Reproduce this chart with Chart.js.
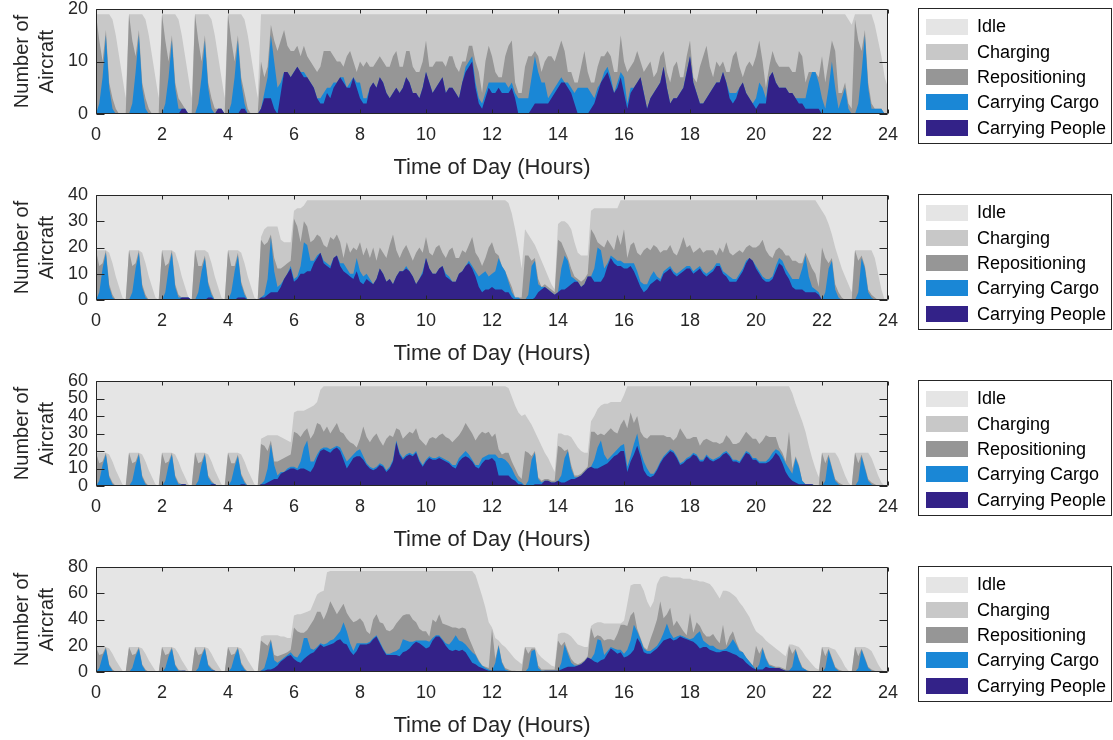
<!DOCTYPE html>
<html>
<head>
<meta charset="utf-8">
<script src="https://cdn.jsdelivr.net/npm/chart.js@4.4.1/dist/chart.umd.min.js"></script>
<style>
  html, body { margin: 0; padding: 0; background: #ffffff; }
  #wrap { position: relative; width: 1113px; height: 740px; overflow: hidden; background: #ffffff; }
  #wrap canvas { position: absolute; left: 0; }
</style>
</head>
<body>
<div id="wrap"></div>
<script>
// Fleet state over a day, sampled every 6 minutes (10 samples per hour, 0..24 h).
const STEPS_PER_HOUR = 10;
const hourTicks = [0, 2, 4, 6, 8, 10, 12, 14, 16, 18, 20, 22, 24];
const fleetSizes = [20, 40, 60, 80];
const yTicksByPanel = [[0, 10, 20], [0, 10, 20, 30, 40], [0, 10, 20, 30, 40, 50, 60], [0, 20, 40, 60, 80]];
const stateLabels = ['Carrying People', 'Carrying Cargo', 'Repositioning', 'Charging', 'Idle'];
const stateColors = ['#332288', '#1a87d6', '#969696', '#c8c8c8', '#e5e5e5'];

// ---------- Fleet of 20 ----------
const p1People = [
0,0,0,0,0,0,0,0,0,0,
0,0,0,0,0,0,0,0,0,0,
0,0,0,0,0,0,1,1,0,0,
0,0,0,0,0,0,0,1,1,0,
0,0,0,0,1,1,0,0,0,0,
1,3,3,3,1,0,4,8,8,7,
8,9,8,7,7,6,5,3,2,2,
4,3,5,6,7,6,5,5,7,5,
3,2,2,5,6,5,7,6,4,3,
4,5,4,5,7,6,4,4,3,5,
8,6,4,5,6,7,4,5,5,4,
3,6,8,9,10,5,2,1,3,5,
4,4,5,4,4,4,5,3,0,0,
0,0,1,2,2,2,2,2,3,4,
5,6,6,5,4,2,0,0,0,0,
1,2,4,6,7,8,6,4,5,7,
4,1,4,5,6,7,4,1,3,4,
5,6,9,5,2,3,3,4,5,8,
11,6,4,2,2,3,4,5,6,6,
8,6,3,2,3,5,6,4,3,2,
1,2,2,2,7,8,6,5,5,5,
4,4,3,2,2,1,1,1,1,1,
0,0,0,0,0,0,0,0,0,0,
0,0,0,0,0,0,0,0,0,0,
0];
const p1Cargo = [
0,2,7,15,5,1,0,0,0,0,
0,2,8,15,5,1,0,0,0,0,
0,2,7,14,5,1,0,0,0,0,
0,2,7,14,5,1,0,0,0,0,
0,2,7,14,5,1,0,0,0,0,
0,1,4,12,9,5,2,0,0,0,
0,0,0,1,0,0,0,0,1,2,
1,2,1,0,0,1,0,1,0,1,
3,1,1,0,0,0,0,0,0,0,
0,0,0,0,0,0,0,0,0,0,
0,0,0,0,0,0,0,0,0,0,
0,0,1,1,1,1,1,1,1,1,
2,2,1,2,2,1,1,1,3,3,
3,3,6,9,6,4,4,1,1,1,
1,1,0,1,1,2,5,5,5,5,
3,1,1,0,1,1,1,0,1,1,
3,1,1,0,0,0,0,0,0,0,
0,0,0,0,0,0,0,0,0,0,
0,0,0,0,0,0,0,0,0,0,
0,0,1,2,1,0,0,0,0,0,
2,4,3,1,0,0,0,0,0,0,
0,0,0,1,1,2,5,7,7,5,
3,1,5,10,5,1,3,5,1,0,
0,2,8,15,5,1,1,1,1,0,
0];
const p1Repo = [
19,12,3,1,1,2,1,0,0,0,
19,12,3,1,1,2,1,0,0,0,
19,12,3,1,1,2,1,0,0,0,
19,12,3,1,1,2,1,0,0,0,
19,12,3,1,1,2,1,0,0,0,
9,3,2,2,4,7,8,8,5,5,
4,4,3,5,4,4,4,5,6,8,
7,7,5,4,3,2,6,6,3,2,
4,6,7,4,3,5,4,4,5,6,
7,7,5,4,5,6,5,4,5,5,
6,3,5,5,4,3,5,6,6,5,
5,4,1,3,2,4,5,2,6,7,
5,2,1,1,5,8,8,2,1,1,
6,8,4,1,3,2,4,8,7,5,
6,7,6,2,3,2,1,4,7,3,
2,3,4,5,3,3,4,4,2,7,
3,6,4,5,6,3,4,8,7,3,
3,5,3,3,4,6,7,3,2,3,
3,1,2,7,9,10,5,2,4,3,
2,2,4,7,8,4,1,5,7,7,
8,8,5,2,2,4,4,4,4,4,
5,4,5,9,8,3,2,0,0,1,
8,5,5,4,7,3,1,1,1,1,
18,12,4,1,1,1,0,0,0,0,
0];
const p1Charging = [
0,5,9,3,13,15,14,11,7,3,
0,5,8,3,13,15,14,11,7,3,
0,5,9,4,13,15,13,10,7,3,
0,5,9,4,13,15,14,10,6,3,
0,5,9,4,12,14,14,11,7,3,
9,12,10,2,5,7,5,3,6,7,
7,6,8,6,8,9,10,11,10,7,
7,7,8,9,9,10,8,7,9,11,
9,10,9,10,10,9,8,9,10,10,
8,7,10,10,7,7,10,11,11,9,
5,10,10,9,9,9,10,8,8,10,
11,9,9,6,6,9,11,15,9,6,
8,11,12,12,8,6,5,13,15,15,
10,8,8,7,8,11,9,8,8,9,
7,5,7,11,11,13,13,10,7,11,
13,13,10,8,8,7,8,11,11,4,
9,11,10,9,7,9,11,10,9,12,
11,8,7,11,13,10,9,12,12,8,
5,12,13,10,8,6,10,12,9,10,
9,11,11,8,7,10,12,10,9,10,
8,5,9,14,10,7,9,10,10,10,
10,11,11,7,8,13,11,11,11,12,
8,13,9,5,7,15,15,13,16,16,
1,5,7,3,13,17,16,13,10,7,
5];

// ---------- Fleet of 40 ----------
const p2People = [
0,0,0,0,0,0,0,0,0,0,
0,0,0,0,0,0,0,0,0,0,
0,0,0,0,0,0,1,1,1,0,
0,0,0,0,1,1,0,0,0,0,
0,0,0,1,1,1,0,0,0,0,
1,1,2,3,3,3,5,8,10,12,
7,8,10,10,11,11,14,16,18,14,
13,12,16,17,13,11,10,9,8,11,
7,6,8,7,6,8,12,10,7,8,
6,9,11,11,12,11,9,6,8,10,
16,12,10,10,12,13,9,8,7,7,
10,11,13,14,12,9,5,3,4,4,
5,4,4,4,3,3,1,0,0,0,
0,0,0,1,3,4,5,4,3,2,
3,4,4,5,6,7,7,5,6,9,
9,7,7,7,9,13,16,14,13,13,
12,12,13,11,8,5,3,4,6,7,
8,7,10,11,12,10,9,10,11,12,
12,10,11,12,10,9,10,11,13,13,
10,9,7,7,7,9,11,14,16,15,
12,10,8,7,7,8,11,14,13,10,
8,5,4,4,4,3,3,3,3,2,
0,0,0,0,0,0,0,0,0,0,
0,0,0,0,0,0,0,0,0,0,
0];
const p2Cargo = [
0,3,12,18,5,1,0,0,0,0,
0,3,12,18,5,1,0,0,0,0,
0,3,12,18,5,1,0,0,0,0,
0,3,11,16,5,1,0,0,0,0,
0,3,11,16,5,1,0,0,0,0,
0,1,6,21,8,2,1,0,0,1,
1,1,3,12,10,4,1,1,0,1,
1,1,0,0,1,3,2,1,2,5,
4,3,2,1,0,0,0,0,0,0,
0,0,0,0,1,0,0,0,0,1,
0,0,0,0,0,0,1,1,0,0,
0,0,0,1,1,2,4,7,7,5,
5,7,12,9,8,4,2,1,1,0,
0,2,13,14,3,1,0,0,0,0,
0,8,13,10,3,1,0,0,0,0,
0,5,13,12,3,1,1,2,2,2,
2,2,1,3,3,2,3,2,3,4,
1,1,1,1,1,1,1,1,1,1,
1,1,1,1,1,1,1,1,1,1,
1,1,2,1,1,1,1,1,0,0,
1,1,1,1,1,1,2,2,2,2,
2,3,4,4,8,14,6,2,1,1,
0,3,12,15,4,1,0,0,0,0,
0,3,16,12,3,1,0,0,0,0,
0];
const p2Repo = [
19,10,2,1,1,1,0,0,0,0,
19,10,2,1,1,1,0,0,0,0,
19,10,2,1,1,1,0,0,0,0,
19,10,2,1,1,1,0,0,0,0,
19,10,2,1,1,1,0,0,0,0,
22,19,14,1,5,7,6,5,4,2,
23,19,9,8,7,7,8,8,6,6,
6,11,7,8,8,2,10,8,10,3,
11,8,10,8,14,7,8,8,9,13,
19,10,5,8,8,7,6,12,12,7,
8,6,7,10,9,5,6,10,13,9,
6,8,5,6,11,7,7,3,5,11,
12,7,1,0,0,1,2,0,0,1,
17,15,2,1,2,0,1,1,1,1,
20,10,2,1,3,1,1,2,2,1,
18,13,2,2,8,9,4,3,10,6,
13,2,7,8,7,10,13,14,10,10,
11,10,8,7,8,7,7,9,12,7,
8,7,7,7,7,9,8,7,3,6,
7,12,9,9,10,9,6,5,5,5,
7,10,14,11,9,7,6,4,4,5,
7,7,7,6,2,1,6,7,6,2,
20,13,2,1,2,2,1,0,0,0,
19,12,1,1,1,1,1,0,0,0,
0];
const p2Charging = [
0,6,5,0,12,12,9,5,1,0,
0,6,5,0,12,12,9,5,1,0,
0,6,5,0,12,12,8,4,0,0,
0,6,6,2,11,11,9,5,1,0,
0,6,6,1,11,11,9,5,1,0,
1,6,6,3,12,16,11,9,8,7,
3,7,13,6,10,16,15,13,14,17,
18,14,15,13,16,22,16,20,18,19,
16,21,18,22,18,23,18,20,22,17,
13,19,22,19,17,20,23,20,18,20,
14,20,21,18,17,20,22,19,18,22,
22,19,20,17,14,20,22,25,22,18,
16,20,21,25,27,29,28,26,19,11,
10,8,8,5,10,10,6,4,2,1,
6,8,11,13,15,13,10,10,9,7,
7,10,13,14,15,12,14,16,10,17,
11,22,17,16,20,21,19,18,19,17,
18,20,19,19,17,20,21,18,14,18,
17,20,19,18,20,19,19,19,21,18,
20,16,20,21,20,19,20,18,17,18,
18,17,15,19,21,22,19,18,19,21,
21,23,23,24,24,20,23,26,28,31,
14,16,15,9,14,13,11,9,6,3,
0,4,2,6,15,17,15,10,4,0,
0];

// ---------- Fleet of 60 ----------
const p3People = [
0,0,0,0,0,0,0,0,0,0,
0,0,0,0,0,0,0,0,0,0,
0,0,0,0,0,0,1,1,0,0,
0,0,0,0,0,1,1,0,0,0,
0,0,0,0,1,1,0,0,0,0,
1,1,2,3,4,4,7,8,9,10,
10,9,10,10,9,8,11,16,20,21,
20,19,21,22,20,15,10,13,16,17,
17,15,12,10,9,10,12,11,8,10,
14,25,18,15,17,18,17,19,14,11,
14,16,15,15,16,15,14,13,11,10,
14,16,17,16,14,11,10,13,15,15,
16,14,6,6,6,6,4,3,1,1,
0,0,0,1,1,1,3,3,2,2,
3,2,2,3,4,4,5,6,8,10,
11,10,10,11,12,13,15,17,18,20,
20,8,14,18,23,17,9,6,5,6,
9,13,16,18,20,19,16,12,13,15,
16,18,17,14,14,17,15,14,15,16,
18,19,17,14,14,13,16,19,18,15,
15,13,13,13,14,16,19,17,13,8,
5,3,2,1,1,1,1,1,0,0,
0,0,0,0,0,0,0,0,0,0,
0,0,0,0,0,0,0,0,0,0,
0];
const p3Cargo = [
0,3,12,18,5,1,0,0,0,0,
0,3,12,18,5,1,0,0,0,0,
0,3,12,18,5,1,0,0,0,0,
0,3,12,18,5,1,0,0,0,0,
0,3,11,17,5,1,0,0,0,0,
0,2,8,21,8,2,1,0,1,1,
1,1,4,12,17,6,3,2,1,1,
2,2,1,1,2,3,4,3,2,3,
4,2,1,1,1,1,1,1,1,1,
1,1,1,1,1,1,1,1,1,1,
1,1,1,1,1,1,1,1,1,2,
2,2,3,2,1,1,2,3,2,3,
2,4,10,10,9,7,6,3,2,1,
0,3,15,18,3,1,0,0,0,0,
0,4,14,17,6,1,0,0,0,0,
0,5,12,15,6,2,2,2,3,3,
4,3,3,6,7,3,5,4,2,1,
1,1,1,1,1,1,1,1,1,1,
1,1,1,1,1,1,1,1,1,1,
1,1,1,1,1,1,1,1,1,1,
1,1,1,1,2,3,2,3,4,5,
5,4,14,10,2,0,0,0,0,0,
0,3,17,10,3,1,0,0,0,0,
0,3,17,10,3,1,0,0,0,0,
0];
const p3Repo = [
19,10,2,1,1,1,0,0,0,0,
19,10,2,1,1,1,0,0,0,0,
19,10,2,1,1,1,0,0,0,0,
19,10,2,1,1,1,0,0,0,0,
19,10,2,1,1,1,0,0,0,0,
23,20,10,2,2,8,7,8,7,7,
20,20,14,9,7,13,16,18,14,9,
12,9,11,13,9,12,13,9,6,2,
6,17,15,14,18,19,13,11,18,18,
13,7,13,11,11,12,12,13,12,13,
8,10,12,11,12,14,13,13,13,15,
13,14,16,15,15,14,17,15,13,13,
10,12,5,2,4,6,4,4,3,2,
20,16,2,1,1,1,1,1,1,1,
20,16,4,1,2,1,1,1,1,1,
20,16,7,4,11,16,16,12,9,12,
14,22,25,12,10,11,14,17,22,22,
19,15,12,9,7,6,11,20,16,11,
10,9,10,8,11,9,10,10,9,7,
6,9,9,9,9,11,11,11,10,11,
11,10,12,15,12,9,7,2,2,1,
21,3,1,1,0,0,0,0,0,0,
19,10,1,1,1,1,1,0,0,0,
19,10,1,1,1,1,1,0,0,0,
0];
const p3Charging = [
0,6,5,0,12,12,9,5,1,0,
0,6,5,0,12,12,9,5,1,0,
0,6,5,0,12,12,8,4,1,0,
0,6,5,0,12,11,8,5,1,0,
0,6,6,1,11,11,9,5,1,0,
3,5,9,3,15,15,13,11,9,7,
11,13,15,12,11,18,16,12,20,26,
23,27,24,21,26,27,30,32,33,35,
30,23,29,32,29,27,31,34,30,28,
29,24,25,30,28,26,27,24,30,32,
34,30,29,30,28,27,29,30,32,30,
28,25,21,24,27,31,28,26,27,26,
29,27,36,39,38,37,37,36,36,36,
21,19,18,11,22,20,15,12,9,5,
7,8,9,8,16,19,16,13,10,8,
6,9,15,16,18,16,15,17,18,13,
14,24,15,21,17,26,29,30,28,28,
28,28,28,29,29,31,29,24,27,30,
30,29,29,34,31,30,31,32,32,33,
32,28,30,33,33,32,29,26,28,30,
30,33,31,28,29,29,29,35,38,43,
26,43,30,30,34,30,22,15,10,5,
0,6,1,8,15,14,10,6,2,0,
0,6,1,8,15,14,10,6,2,0,
0];

// ---------- Fleet of 80 ----------
const p4People = [
0,0,0,0,0,0,0,0,0,0,
0,0,0,0,0,0,0,0,0,0,
0,0,0,0,0,0,1,1,0,0,
0,0,0,0,0,1,1,0,0,0,
0,0,0,0,1,1,0,0,0,0,
1,1,2,2,3,5,8,10,12,13,
10,8,7,10,12,14,15,18,21,19,
20,21,22,24,25,22,21,16,13,16,
21,21,21,22,25,27,22,17,13,13,
13,13,12,15,16,18,21,23,22,20,
18,19,24,27,27,24,20,17,16,17,
16,17,15,11,7,6,4,3,2,1,
1,1,1,1,1,0,0,0,0,0,
0,0,0,0,0,0,1,1,1,1,
1,2,3,4,4,4,5,6,8,11,
10,8,7,9,10,14,18,16,14,15,
11,12,14,17,26,22,15,14,14,16,
18,21,24,25,26,24,25,27,26,25,
24,23,21,18,19,19,17,16,15,15,
16,16,15,14,13,11,10,7,5,3,
2,2,2,4,3,3,3,3,2,1,
1,1,1,1,1,1,0,0,0,0,
0,0,0,0,0,0,0,0,0,0,
0,0,0,0,0,0,0,0,0,0,
0];
const p4Cargo = [
0,3,12,18,5,1,0,0,0,0,
0,3,12,18,5,1,0,0,0,0,
0,3,12,18,5,1,0,0,0,0,
0,3,12,18,5,1,0,0,0,0,
0,3,12,18,5,1,0,0,0,0,
0,2,10,22,6,2,1,1,1,2,
2,3,8,16,14,4,2,1,1,2,
2,3,3,4,6,16,10,6,3,6,
1,1,1,1,1,1,1,1,1,1,
2,3,6,10,8,5,2,1,2,4,
6,4,2,1,1,1,2,4,8,11,
8,6,6,7,8,7,4,2,1,1,
0,6,19,6,1,1,0,0,0,0,
0,3,16,17,3,1,0,0,0,0,
0,5,18,10,3,1,0,0,0,0,
0,6,18,15,3,2,1,2,3,2,
3,5,10,19,5,3,3,2,2,2,
2,3,6,12,4,2,2,1,1,1,
1,3,8,13,5,3,3,4,3,2,
1,2,6,11,8,5,5,4,3,2,
0,4,16,6,2,1,0,0,0,0,
0,3,16,8,2,1,0,0,0,0,
0,3,17,10,3,1,0,0,0,0,
0,3,17,10,3,1,0,0,0,0,
0];
const p4Repo = [
19,10,2,1,1,1,0,0,0,0,
19,10,2,1,1,1,0,0,0,0,
19,10,2,1,1,1,0,0,0,0,
19,10,2,1,1,1,0,0,0,0,
19,10,2,1,1,1,0,0,0,0,
23,19,8,1,4,5,4,3,2,2,
22,20,15,4,6,18,23,27,24,19,
24,30,24,16,17,14,14,19,22,17,
19,16,9,6,14,16,15,19,18,17,
18,21,22,18,20,21,17,14,9,7,
7,4,14,10,16,12,14,14,10,6,
9,11,12,8,5,1,1,0,1,1,
32,3,1,1,1,1,1,1,0,0,
19,11,2,1,2,1,1,1,1,1,
23,13,2,2,3,2,1,1,1,1,
24,12,3,3,11,9,6,6,12,19,
22,18,19,10,2,1,1,1,9,14,
20,30,11,7,19,9,12,7,4,2,
20,4,9,4,6,5,7,9,7,5,
19,2,6,6,2,1,0,0,0,0,
18,8,1,1,1,1,1,1,1,1,
19,10,1,1,1,0,1,0,0,0,
19,9,1,1,1,1,1,0,0,0,
19,9,1,1,1,1,1,0,0,0,
0];
const p4Charging = [
0,6,5,0,12,12,9,5,1,0,
0,6,5,0,12,12,9,5,1,0,
0,6,5,0,12,12,8,4,1,0,
0,6,5,0,12,11,8,5,1,0,
0,6,5,0,11,11,9,5,1,0,
3,6,8,3,15,16,14,13,11,9,
9,13,14,15,14,11,13,13,15,22,
30,23,28,33,29,25,32,36,39,38,
36,39,46,48,37,33,39,40,45,46,
44,40,37,34,33,33,37,39,44,46,
46,50,37,39,33,40,41,42,43,43,
44,43,44,51,57,60,57,53,45,35,
1,16,3,13,16,14,12,9,8,6,
0,5,1,1,9,9,7,5,3,2,
5,10,7,13,17,17,15,13,10,7,
1,11,10,11,13,12,12,13,8,1,
3,17,23,21,34,41,43,37,24,22,
27,18,32,29,23,37,33,37,40,43,
26,40,32,34,39,41,40,35,35,34,
26,42,34,28,34,36,35,35,34,31,
11,15,8,13,16,15,14,12,11,10,
1,7,2,9,12,10,8,6,3,2,
0,7,1,7,13,11,8,4,1,0,
0,7,1,8,14,14,10,6,2,0,
0];

const panels = [
  { people: p1People, cargo: p1Cargo, repo: p1Repo, charging: p1Charging },
  { people: p2People, cargo: p2Cargo, repo: p2Repo, charging: p2Charging },
  { people: p3People, cargo: p3Cargo, repo: p3Repo, charging: p3Charging },
  { people: p4People, cargo: p4Cargo, repo: p4Repo, charging: p4Charging }
];

const FONT = '"Liberation Sans", Arial, Helvetica, sans-serif';
const INK = '#262626';
Chart.defaults.font.family = FONT;
Chart.defaults.color = INK;

// Box frame with inward tick marks on all four sides.
const boxFrame = {
  id: 'boxFrame',
  afterDatasetsDraw(chart) {
    const { ctx, chartArea: a, scales: { x, y } } = chart;
    const L = Math.round(a.left) + 0.5, R = Math.round(a.right) - 0.5;
    const T = Math.round(a.top) + 0.5, B = Math.round(a.bottom) - 0.5;
    ctx.save();
    ctx.strokeStyle = INK;
    ctx.lineWidth = 1;
    ctx.beginPath();
    ctx.rect(L, T, R - L, B - T);
    x.ticks.forEach(t => {
      const px = Math.round(x.getPixelForValue(t.value)) + 0.5;
      ctx.moveTo(px, B); ctx.lineTo(px, B - 4);
      ctx.moveTo(px, T); ctx.lineTo(px, T + 4);
    });
    y.ticks.forEach(t => {
      const py = Math.round(y.getPixelForValue(t.value)) + 0.5;
      ctx.moveTo(L, py); ctx.lineTo(L + 8, py);
      ctx.moveTo(R, py); ctx.lineTo(R - 8, py);
    });
    ctx.stroke();
    ctx.restore();
  }
};

// Legend box to the right of the plot, listing the states from top of the stack down.
const sideLegend = {
  id: 'sideLegend',
  afterDraw(chart) {
    const { ctx, chartArea: a } = chart;
    const x0 = 918.5, y0 = Math.round(a.top) - 0.5, w = 193, h = 135;
    ctx.save();
    ctx.fillStyle = '#ffffff';
    ctx.fillRect(x0, y0, w, h);
    ctx.strokeStyle = INK;
    ctx.lineWidth = 1;
    ctx.strokeRect(x0, y0, w, h);
    ctx.font = '18px ' + FONT;
    ctx.textBaseline = 'middle';
    const items = chart.data.datasets.slice().reverse();
    items.forEach((d, i) => {
      const cy = y0 + 18 + i * 25.3;
      ctx.fillStyle = d.backgroundColor;
      ctx.fillRect(926, Math.round(cy - 8), 42, 16);
      ctx.fillStyle = '#000000';
      ctx.fillText(d.label, 977, cy + 1);
    });
    ctx.restore();
  }
};

const wrap = document.getElementById('wrap');

panels.forEach((series, index) => {
  const fleet = fleetSizes[index];
  const canvas = document.createElement('canvas');
  canvas.width = 1113;
  canvas.height = 202;
  canvas.style.top = (186 * index - 20) + 'px';
  wrap.appendChild(canvas);

  const idle = series.people.map((v, i) =>
    fleet - v - series.cargo[i] - series.repo[i] - series.charging[i]);
  const layers = [series.people, series.cargo, series.repo, series.charging, idle];
  const datasets = layers.map((arr, k) => ({
    label: stateLabels[k],
    data: arr.map((v, i) => ({ x: i / STEPS_PER_HOUR, y: v })),
    backgroundColor: stateColors[k],
    borderColor: stateColors[k],
    borderWidth: 0,
    pointRadius: 0,
    pointHoverRadius: 0,
    fill: 'origin',
    tension: 0
  }));
  const yTicks = yTicksByPanel[index];

  new Chart(canvas, {
    type: 'line',
    data: { datasets },
    plugins: [boxFrame, sideLegend],
    options: {
      responsive: false,
      animation: false,
      devicePixelRatio: 1,
      events: [],
      layout: { padding: { left: 0, right: 225, top: 29, bottom: 1 } },
      plugins: { legend: { display: false }, tooltip: { enabled: false } },
      scales: {
        x: {
          type: 'linear',
          min: 0, max: 24,
          grid: { display: false, drawTicks: false },
          border: { display: false },
          afterBuildTicks: s => { s.ticks = hourTicks.map(v => ({ value: v })); },
          ticks: { font: { size: 18 }, color: INK, padding: 10, maxRotation: 0, autoSkip: false },
          title: { display: true, text: 'Time of Day (Hours)', font: { size: 22 }, color: INK, padding: { top: 0, bottom: 0 } },
          afterFit: s => { s.height = 67; }
        },
        y: {
          type: 'linear',
          stacked: true,
          min: 0, max: fleet,
          grid: { display: false, drawTicks: false },
          border: { display: false },
          afterBuildTicks: s => { s.ticks = yTicks.map(v => ({ value: v })); },
          ticks: { font: { size: 18 }, color: INK, padding: 8, autoSkip: false },
          title: { display: true, text: ['Number of', 'Aircraft'], font: { size: 20, lineHeight: 1.25 }, color: INK, padding: { top: 10, bottom: 0 } },
          afterFit: s => { s.width = 96; }
        }
      }
    }
  });
});
</script>
</body>
</html>
